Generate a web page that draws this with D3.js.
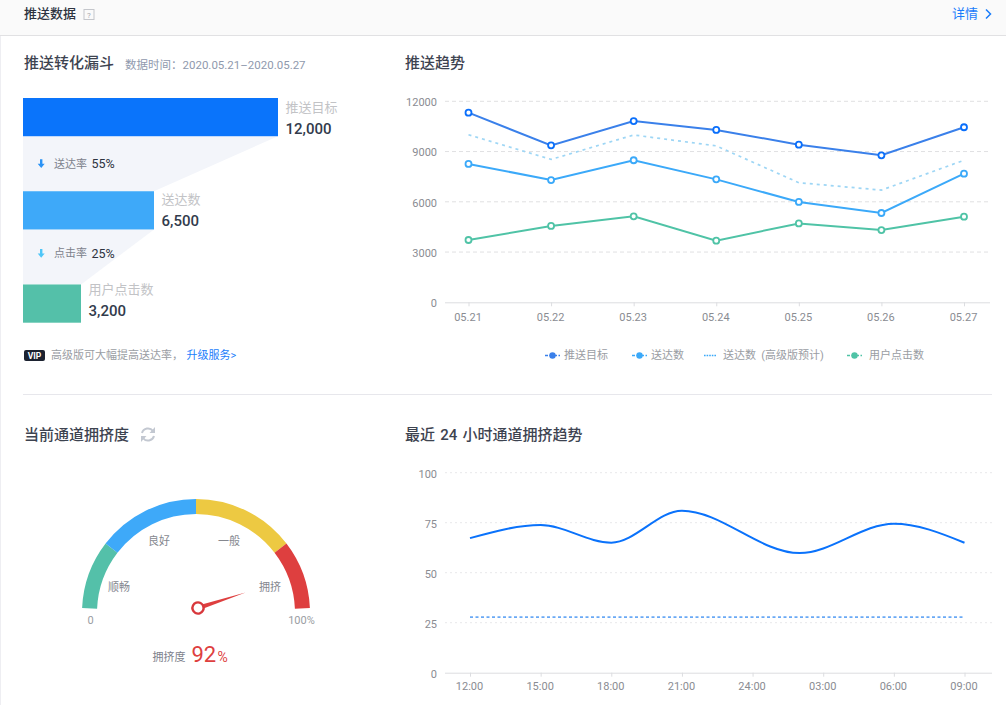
<!DOCTYPE html>
<html>
<head>
<meta charset="utf-8">
<script src="https://cdn.jsdelivr.net/npm/d3@7"></script>
<style>
  html, body { margin: 0; padding: 0; background: #fff; overflow: hidden; }
  svg { display: block; }
  text { font-family: Roboto, "Noto Sans CJK SC", sans-serif; }
  .axis path.domain { stroke: #dcdde0; }
  .axis line { stroke: #dcdde0; }
  .axis text { fill: #8a8c92; font-size: 11px; }
</style>
</head>
<body>
<div id="chart"></div>
<script>
// funnel
var funnelNames = ['推送目标', '送达数', '用户点击数'];
var funnelValues = [12000, 6500, 3200];
var funnelRates = ['55%', '25%'];
var funnelRateNames = ['送达率', '点击率'];
var funnelColors = ['#0a74fb', '#3ea9f9', '#54c0a9'];
var funnelArrowColors = ['#2b93f5', '#4fc6f8'];

// push trend
var days = ['05.21', '05.22', '05.23', '05.24', '05.25', '05.26', '05.27'];
var pushTarget = [11320, 9370, 10820, 10290, 9410, 8775, 10450];
var pushSent = [8260, 7300, 8480, 7340, 5990, 5330, 7680];
var pushSentPro = [10000, 8530, 9990, 9340, 7140, 6700, 8480];
var pushClicks = [3720, 4560, 5130, 3680, 4710, 4310, 5110];
var pushTicks = [0, 3000, 6000, 9000, 12000];

// gauge
var gaugeStops = [0, 20, 50, 80, 100];
var gaugeColors = ['#54c0a9', '#3ea9f9', '#edc942', '#de3f3f'];
var gaugeNames = ['顺畅', '良好', '一般', '拥挤'];
var gaugeValue = 92;

// 24h trend
var hourLabels = ['12:00', '15:00', '18:00', '21:00', '24:00', '03:00', '06:00', '09:00'];
var hourTicks = [0, 3, 6, 9, 12, 15, 18, 21];
var loadHours = [0, 3, 6, 9, 14, 18, 21];
var loadValues = [67.3, 73.8, 65, 81, 59.8, 74.5, 65];
var baseHours = [0, 21];
var baseValues = [27.8, 27.8];
var loadTicks = [0, 25, 50, 75, 100];

var svg = d3.select('#chart').append('svg').attr('width', 1006).attr('height', 705);

function label(x, y, str, size, color, anchor, weight) {
    return svg.append('text')
        .attr('x', x).attr('y', y)
        .attr('font-size', size)
        .attr('fill', color)
        .attr('text-anchor', anchor || 'start')
        .attr('font-weight', weight || 400)
        .text(str);
}

// page frame
svg.append('rect').attr('x', 0).attr('y', 0).attr('width', 1006).attr('height', 35).attr('fill', '#fafafa');
svg.append('rect').attr('x', 0).attr('y', 35).attr('width', 1006).attr('height', 1).attr('fill', '#e1e1e3');
svg.append('rect').attr('x', 0).attr('y', 36).attr('width', 1).attr('height', 669).attr('fill', '#eeeef2');
svg.append('rect').attr('x', 23).attr('y', 394).attr('width', 969).attr('height', 1).attr('fill', '#e7e7ec');

label(24, 18, '推送数据', 13, '#2d3340', 'start', 500);
svg.append('rect').attr('x', 84).attr('y', 9.5).attr('width', 10).attr('height', 10)
    .attr('fill', 'none').attr('stroke', '#c4c6cb');
label(89, 18, '?', 8, '#a6a8ae', 'middle');
label(952, 18, '详情', 13, '#1a7dfb');
svg.append('path').attr('d', 'M986 9.5 L990.5 14 L986 18.5').attr('fill', 'none')
    .attr('stroke', '#1a7dfb').attr('stroke-width', 1.5);

label(24, 68, '推送转化漏斗', 15, '#3d4350', 'start', 500);
label(125, 69, '数据时间：2020.05.21–2020.05.27', 11.5, '#8f99ad');
label(405, 68, '推送趋势', 15, '#3d4350', 'start', 500);
label(24, 440, '当前通道拥挤度', 15, '#3d4350', 'start', 500);
label(405, 440, '最近 24 小时通道拥挤趋势', 15, '#3d4350', 'start', 500).attr('word-spacing', 1.5);

// refresh icon
var refresh = svg.append('g').attr('transform', 'translate(148,434.5)')
    .attr('fill', 'none').attr('stroke', '#c3c8d1').attr('stroke-width', 2);
refresh.append('path').attr('d', 'M-6 -1.5 A6.2 6.2 0 0 1 5 -3.5');
refresh.append('path').attr('d', 'M6 1.5 A6.2 6.2 0 0 1 -5 3.5');
refresh.append('path').attr('d', 'M7 -7.5 L7 -1.5 L1.5 -1.5 Z').attr('fill', '#c3c8d1').attr('stroke', 'none');
refresh.append('path').attr('d', 'M-7 7.5 L-7 1.5 L-1.5 1.5 Z').attr('fill', '#c3c8d1').attr('stroke', 'none');

// funnel: the bars in the source are not strictly proportional
var funnelX = d3.scaleLinear().domain([0, 3200, 6500, 12000]).range([23, 81, 154, 278]);
var funnelY = d3.scaleBand().domain(funnelNames).range([98, 322.7]).paddingInner(0.59);
var funnelH = funnelY.bandwidth();

funnelRates.forEach(function (rate, i) {
    var top = funnelY(funnelNames[i]) + funnelH;
    var bottom = funnelY(funnelNames[i + 1]);
    svg.append('path')
        .attr('d', d3.line()([
            [funnelX(0), top],
            [funnelX(funnelValues[i]), top],
            [funnelX(funnelValues[i + 1]), bottom],
            [funnelX(0), bottom]
        ]) + 'Z')
        .attr('fill', '#f3f5fa');
    var my = (top + bottom) / 2 + (i === 0 ? 0 : -3.5);
    svg.append('path')
        .attr('d', 'M40 ' + (my - 4.5) + 'h2.4v4.5h2.3l-3.5 4.2l-3.5 -4.2h2.3z')
        .attr('fill', funnelArrowColors[i]);
    label(54, my + 4, funnelRateNames[i], 11, '#7d828c');
    label(91.5, my + 4.5, rate, 12.5, '#2d3340');
});

funnelNames.forEach(function (name, i) {
    var y = funnelY(name);
    var right = funnelX(funnelValues[i]);
    var shift = [0, -1.5, -4][i];
    svg.append('rect')
        .attr('x', funnelX(0)).attr('y', y)
        .attr('width', right - funnelX(0)).attr('height', funnelH)
        .attr('fill', funnelColors[i]);
    label(right + 7.5, y + 14 + shift, name, 13, '#c2c3c6');
    label(right + 7.5, y + 36 + shift, d3.format(',')(funnelValues[i]), 15, '#323b4c', 'start', 500);
});

svg.append('rect').attr('x', 24).attr('y', 350).attr('width', 21).attr('height', 11).attr('rx', 2).attr('fill', '#1c2230');
label(34.5, 358.8, 'VIP', 8.5, '#fff', 'middle', 700);
label(51, 359, '高级版可大幅提高送达率，', 11, '#9a9da3');
label(186.5, 359, '升级服务>', 11, '#1a7dfb');

// push trend
var pushX = d3.scalePoint().domain(days).range([468.5, 964]);
var pushY = d3.scaleLinear().domain([0, 12000]).range([302.3, 101.3]);

svg.append('g').selectAll('line').data(pushTicks.slice(1)).enter().append('line')
    .attr('x1', 445).attr('x2', 990)
    .attr('y1', function (d) { return pushY(d); })
    .attr('y2', function (d) { return pushY(d); })
    .attr('stroke', '#e0e0e2').attr('stroke-dasharray', '4,3');

var pushYAxis = svg.append('g').attr('class', 'axis').attr('transform', 'translate(445,0.8)')
    .call(d3.axisLeft(pushY).tickValues(pushTicks).tickSize(0).tickPadding(8).tickFormat(d3.format('d')));
pushYAxis.select('.domain').remove();

var pushXAxis = svg.append('g').attr('class', 'axis').attr('transform', 'translate(0,302.3)')
    .call(d3.axisBottom(pushX).tickSizeInner(4).tickSizeOuter(0).tickPadding(7));
pushXAxis.select('.domain').attr('d', 'M445 0.5H990');
pushXAxis.selectAll('text').attr('dx', -1);

function pushLine(values, color, dotColor, dash) {
    var line = d3.line()
        .x(function (d, i) { return pushX(days[i]); })
        .y(function (d) { return pushY(d); });
    var path = svg.append('path').datum(values)
        .attr('d', line).attr('fill', 'none')
        .attr('stroke', color).attr('stroke-width', dash ? 1.7 : 2);
    if (dash) {
        path.attr('stroke-dasharray', dash);
        return;
    }
    svg.append('g').selectAll('circle').data(values).enter().append('circle')
        .attr('cx', function (d, i) { return pushX(days[i]); })
        .attr('cy', function (d) { return pushY(d); })
        .attr('r', 3)
        .attr('fill', '#fff').attr('stroke', dotColor).attr('stroke-width', 1.8);
}
pushLine(pushSentPro, '#9ed6f5', null, '3,4');
pushLine(pushTarget, '#3a80ea', '#0a6ffb');
pushLine(pushSent, '#3ba9f9', '#3ba9f9');
pushLine(pushClicks, '#4fc3a6', '#4fc3a6');

// legend
var legendNames = ['推送目标', '送达数', '送达数 (高级版预计)', '用户点击数'];
var legendColors = ['#3a80ea', '#3ba9f9', '#3ba9f9', '#4fc3a6'];
var legendStart = [545, 632, 704, 847];
var legendText = [564, 651, 723, 869];
legendNames.forEach(function (name, i) {
    var x0 = legendStart[i];
    var dotted = i === 2;
    var w = dotted ? 13 : 15;
    svg.append('line').attr('x1', x0).attr('x2', x0 + w).attr('y1', 355.5).attr('y2', 355.5)
        .attr('stroke', legendColors[i]).attr('stroke-width', 1.3)
        .attr('stroke-dasharray', dotted ? '1.6,1' : '3,1.5');
    if (!dotted) {
        svg.append('circle').attr('cx', x0 + w / 2).attr('cy', 355.5).attr('r', 3.2).attr('fill', legendColors[i]);
    }
    label(legendText[i], 359, name, 11, '#9a9da3').attr('word-spacing', 2.5);
});

// gauge
var gaugeAngle = d3.scaleLinear().domain([0, 100]).range([-87.5 * Math.PI / 180, 87.5 * Math.PI / 180]);
var gaugeArc = d3.arc().innerRadius(99).outerRadius(114);
var gauge = svg.append('g').attr('transform', 'translate(196,613)');
gaugeColors.forEach(function (color, i) {
    gauge.append('path')
        .attr('d', gaugeArc({ startAngle: gaugeAngle(gaugeStops[i]), endAngle: gaugeAngle(gaugeStops[i + 1]) }))
        .attr('fill', color);
});
label(119, 591, gaugeNames[0], 11, '#85888f', 'middle');
label(159, 544.5, gaugeNames[1], 11, '#85888f', 'middle');
label(229, 544.5, gaugeNames[2], 11, '#85888f', 'middle');
label(270, 591, gaugeNames[3], 11, '#85888f', 'middle');
label(90.5, 624, '0', 11, '#9a9da3', 'middle');
label(301.5, 624, '100%', 11, '#9a9da3', 'middle');

var needleAngle = gaugeAngle(gaugeValue) - 1.5 * Math.PI / 180;
var needle = svg.append('g').attr('transform', 'translate(198,608) rotate(' + (needleAngle * 180 / Math.PI) + ')');
needle.append('path').attr('d', 'M-2.4 0 L0 -50 L2.4 0 Z').attr('fill', '#de3f3f');
needle.append('circle').attr('r', 5.6).attr('fill', '#fff').attr('stroke', '#d8383c').attr('stroke-width', 2.4);

label(169, 660.5, '拥挤度', 11, '#7d828c', 'middle');
label(191.5, 662, String(gaugeValue), 22, '#de3f3f');
label(217.5, 662, '%', 14, '#de3f3f');

// 24h trend
var loadX = d3.scaleLinear().domain([0, 21]).range([470, 964.5]);
var loadY = d3.scaleLinear().domain([0, 100]).range([672.7, 472.7]);

svg.append('g').selectAll('line').data(loadTicks.slice(1)).enter().append('line')
    .attr('x1', 445).attr('x2', 992)
    .attr('y1', function (d) { return loadY(d); })
    .attr('y2', function (d) { return loadY(d); })
    .attr('stroke', '#e8e8ea').attr('stroke-dasharray', '2,3');

var loadYAxis = svg.append('g').attr('class', 'axis').attr('transform', 'translate(445,0.8)')
    .call(d3.axisLeft(loadY).tickValues(loadTicks).tickSize(0).tickPadding(8));
loadYAxis.select('.domain').remove();

var loadXAxis = svg.append('g').attr('class', 'axis').attr('transform', 'translate(0,672.7)')
    .call(d3.axisBottom(loadX).tickValues(hourTicks).tickSizeInner(4).tickSizeOuter(0).tickPadding(6)
        .tickFormat(function (d, i) { return hourLabels[i]; }));
loadXAxis.select('.domain').attr('d', 'M445 0.5H992');
loadXAxis.selectAll('text').attr('dx', -1);

svg.append('path').datum(loadValues)
    .attr('d', d3.line()
        .x(function (d, i) { return loadX(loadHours[i]); })
        .y(function (d) { return loadY(d); })
        .curve(d3.curveMonotoneX))
    .attr('fill', 'none').attr('stroke', '#0a72fb').attr('stroke-width', 2);

svg.append('path').datum(baseValues)
    .attr('d', d3.line()
        .x(function (d, i) { return loadX(baseHours[i]); })
        .y(function (d) { return loadY(d); }))
    .attr('fill', 'none').attr('stroke', '#6aa9f5').attr('stroke-width', 1.6).attr('stroke-dasharray', '3,2.5');
</script>
</body>
</html>
